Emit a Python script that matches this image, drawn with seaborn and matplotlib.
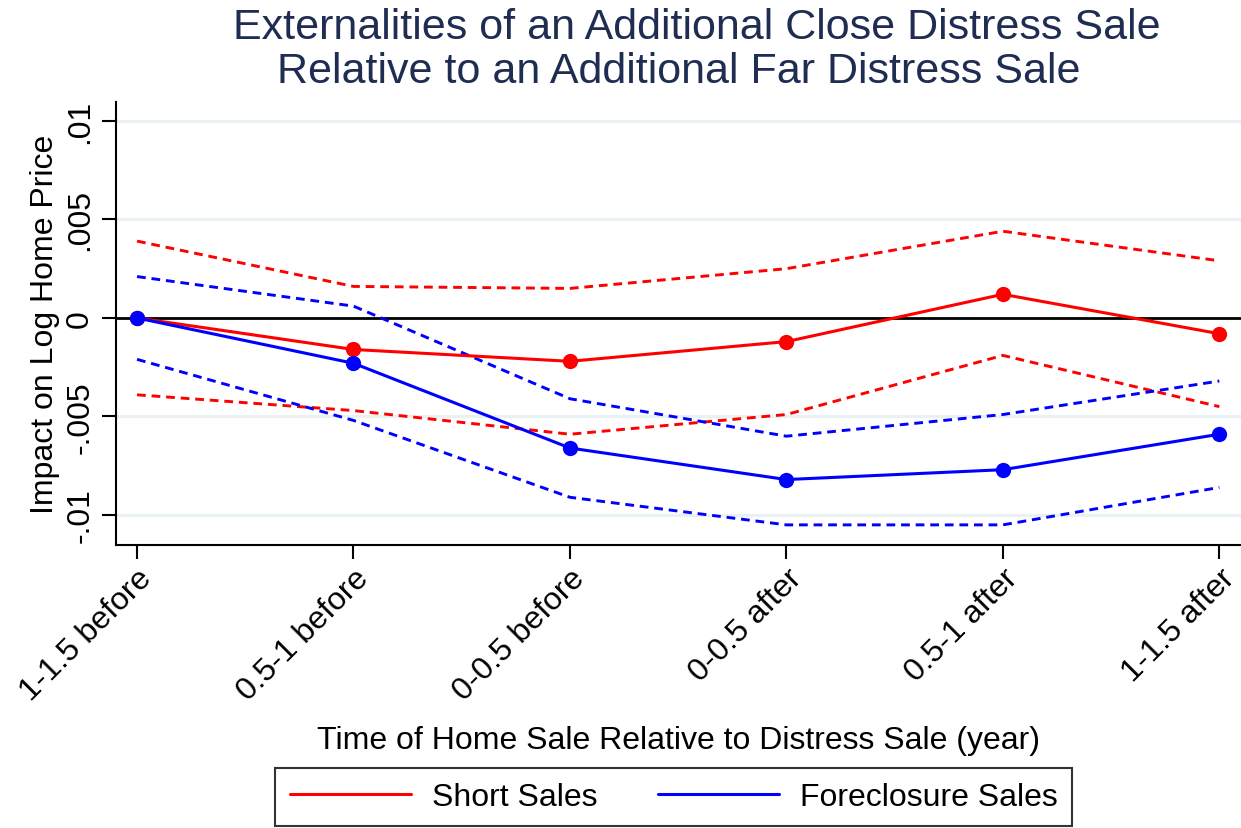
import numpy as np
import pandas as pd
import matplotlib
matplotlib.use("Agg")
import matplotlib.pyplot as plt
from matplotlib.lines import Line2D
import seaborn as sns

# Data
periods = ["1-1.5 before", "0.5-1 before", "0-0.5 before",
           "0-0.5 after", "0.5-1 after", "1-1.5 after"]
short_est = [0.0, -0.0016, -0.0022, -0.0012, 0.0012, -0.0008]
short_hi = [0.0039, 0.0016, 0.0015, 0.0025, 0.0044, 0.0029]
short_lo = [-0.0039, -0.0047, -0.0059, -0.0049, -0.0019, -0.0045]
fore_est = [0.0, -0.0023, -0.0066, -0.0082, -0.0077, -0.0059]
fore_hi = [0.0021, 0.0006, -0.0041, -0.0060, -0.0049, -0.0032]
fore_lo = [-0.0021, -0.0052, -0.0091, -0.0105, -0.0105, -0.0086]
yticks = [-0.01, -0.005, 0, 0.005, 0.01]
ytick_labels = ["-.01", "-.005", "0", ".005", ".01"]
title_lines = ["Externalities of an Additional Close Distress Sale",
               "Relative to an Additional Far Distress Sale"]

sns.set_style("white")
plt.rcParams['font.family'] = ['Liberation Sans', 'DejaVu Sans']
plt.rcParams['text.color'] = 'black'
plt.rcParams['axes.labelcolor'] = 'black'
plt.rcParams['xtick.color'] = 'black'
plt.rcParams['ytick.color'] = 'black'

x = np.arange(len(periods))
df = pd.DataFrame({"x": x,
                   "short_est": short_est, "short_hi": short_hi, "short_lo": short_lo,
                   "fore_est": fore_est, "fore_hi": fore_hi, "fore_lo": fore_lo})

fig = plt.figure(figsize=(12.41, 8.29), dpi=100)
ax = fig.add_axes([0.0935, 0.3414, 0.9065, 0.5344])

# gridlines and zero line
for yv in [-0.01, -0.005, 0.005, 0.01]:
    ax.axhline(yv, color="#eaf1f3", lw=2.2, zorder=0)
ax.axhline(0, color="black", lw=2, zorder=1)

red, blue = "#ff0000", "#0000ff"
dash = (0, (3, 2))
for col in ["short_hi", "short_lo"]:
    sns.lineplot(data=df, x="x", y=col, ax=ax, color=red, lw=2.1,
                 linestyle=dash, legend=False, zorder=2)
for col in ["fore_hi", "fore_lo"]:
    sns.lineplot(data=df, x="x", y=col, ax=ax, color=blue, lw=2.1,
                 linestyle=dash, legend=False, zorder=2)
sns.lineplot(data=df, x="x", y="short_est", ax=ax, color=red, lw=2.2,
             marker="o", markersize=11, markeredgewidth=0, legend=False, zorder=3)
sns.lineplot(data=df, x="x", y="fore_est", ax=ax, color=blue, lw=2.2,
             marker="o", markersize=11, markeredgewidth=0, legend=False, zorder=3)

ax.set_xlim(-0.097, 5.1)
ax.set_ylim(-0.01152, 0.01096)
ax.set_xticks(x)
ax.set_xticklabels(periods, rotation=45, ha="right", rotation_mode="anchor", fontsize=23)
ax.set_yticks(yticks)
ax.set_yticklabels(ytick_labels, rotation=90, va="center", fontsize=23)
ax.tick_params(axis="both", length=10, width=1.5, color="black", direction="out",
               left=True, bottom=True, pad=5)
ax.tick_params(axis="x", pad=3)

for s in ["top", "right"]:
    ax.spines[s].set_visible(False)
for s in ["left", "bottom"]:
    ax.spines[s].set_color("black")
    ax.spines[s].set_linewidth(1.5)

ax.set_xlabel("Time of Home Sale Relative to Distress Sale (year)", fontsize=23, labelpad=14)
ax.set_ylabel("Impact on Log Home Price", fontsize=23, labelpad=4)

# title, two separately centred lines
fig.text(0.5617, 0.966, title_lines[0], fontsize=31, color="#1f2d52",
         ha="center", va="center")
fig.text(0.547, 0.913, title_lines[1], fontsize=31, color="#1f2d52",
         ha="center", va="center")

handles = [Line2D([], [], color=red, lw=2.2), Line2D([], [], color=blue, lw=2.2)]
leg = fig.legend(handles, ["Short Sales", "Foreclosure Sales"], loc="lower center",
                 bbox_to_anchor=(0.543, -0.002), ncol=2, fontsize=23, frameon=True,
                 fancybox=False, edgecolor="black", handlelength=3.8,
                 columnspacing=1.9, borderpad=0.45, handletextpad=0.65,
                 borderaxespad=0.1)
leg.get_frame().set_linewidth(1.5)

fig.savefig("out.png", dpi=100, facecolor="white")
